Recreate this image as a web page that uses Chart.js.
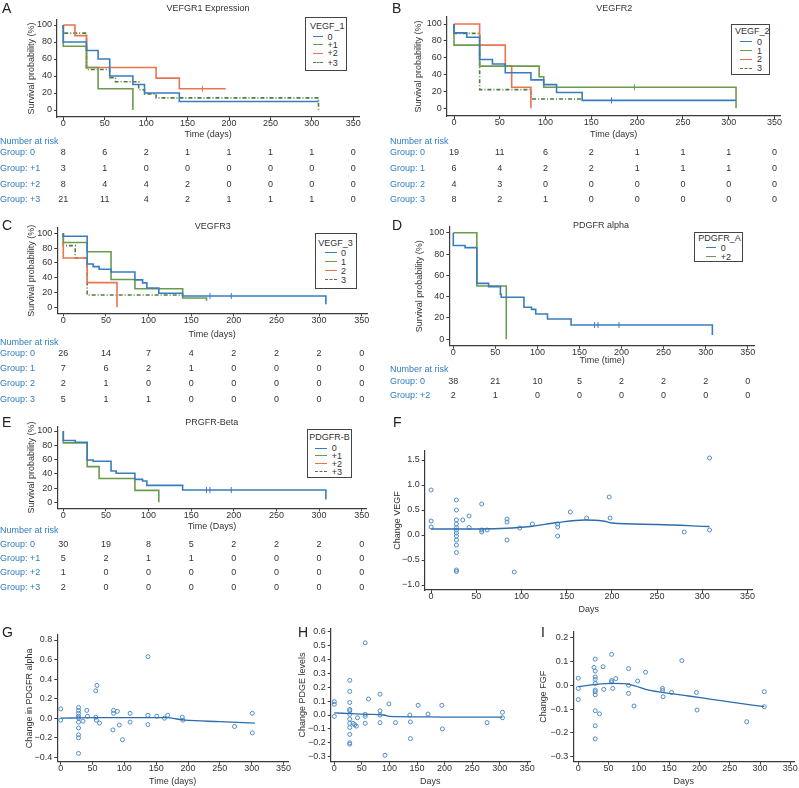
<!DOCTYPE html>
<html>
<head>
<meta charset="utf-8">
<script src="https://cdn.jsdelivr.net/npm/chart.js@4.4.0/dist/chart.umd.min.js"></script>
<style>
body { margin: 0; background: #fff; width: 799px; height: 788px; position: relative; overflow: hidden; font-family: "Liberation Sans", Arial, sans-serif; }
canvas { position: absolute; }
.letter { position: absolute; font-size: 14px; color: #222; line-height: 1; transform: translateY(-50%); }
.title { position: absolute; font-size: 9px; color: #333; white-space: nowrap; transform: translate(-50%, -50%); }
.leg { position: absolute; border: 1.5px solid #444; background: #fff; box-sizing: border-box; }
.legtxt { position: absolute; font-size: 9px; color: #333; white-space: nowrap; transform: translateY(-50%); line-height: 1; }
.legline { position: absolute; height: 0; }
</style>
</head>
<body>
<script>
const FONT = '"Liberation Sans", Arial, sans-serif';

// shared ticks
const timeTicks = [0, 50, 100, 150, 200, 250, 300, 350];
const survTicks = [0, 20, 40, 60, 80, 100];

// A: VEFGR1 expression (VEGF_1)
const aGroups = ['0', '+1', '+2', '+3'];
const aTime0 = [0, 0, 28, 42, 56, 84, 98, 140, 308];
const aSurv0 = [100, 80, 70, 60, 40, 30, 20, 10, 10];
const aTime1 = [0, 0, 28, 42, 84];
const aSurv1 = [100, 75, 50, 25, 0];
const aTime2 = [0, 14, 28, 112, 140, 196];
const aSurv2 = [100, 87.5, 50, 37.5, 25, 25];
const aCensT2 = [168];
const aCensS2 = [25];
const aTime3 = [0, 0, 28, 56, 63, 91, 98, 112, 308, 308];
const aSurv3 = [100, 90.5, 47.6, 38.1, 33.3, 23.8, 19, 14.3, 14.3, 0];
const aRisk = [[8, 6, 2, 1, 1, 1, 1, 0], [3, 1, 0, 0, 0, 0, 0, 0], [8, 4, 4, 2, 0, 0, 0, 0], [21, 11, 4, 2, 1, 1, 1, 0]];

// B: VEGFR2 (VEGF_2)
const bGroups = ['0', '1', '2', '3'];
const bTime0 = [0, 0, 14, 28, 28, 42, 56, 84, 98, 112, 140, 308];
const bSurv0 = [100, 89.5, 84.2, 63.2, 57.9, 52.6, 42.1, 33.7, 28.1, 18.7, 9.4, 9.4];
const bCensT0 = [172];
const bCensS0 = [9.4];
const bTime1 = [0, 0, 28, 93, 98, 308, 308];
const bSurv1 = [100, 75, 50, 37.5, 25, 25, 0];
const bCensT1 = [197];
const bCensS1 = [25];
const bTime2 = [0, 28, 56, 63, 84];
const bSurv2 = [100, 75, 50, 25, 0];
const bTime3 = [0, 0, 28, 84, 140];
const bSurv3 = [100, 88.9, 22.2, 11.1, 11.1];
const bRisk = [[19, 11, 6, 2, 1, 1, 1, 0], [6, 4, 2, 2, 1, 1, 1, 0], [4, 3, 0, 0, 0, 0, 0, 0], [8, 2, 1, 0, 0, 0, 0, 0]];

// C: VEGFR3 (VEGF_3)
const cGroups = ['0', '1', '2', '3'];
const cTime0 = [0, 0, 28, 28, 35, 42, 56, 84, 93, 98, 112, 140, 308, 308];
const cSurv0 = [100, 96, 65, 58.6, 55, 51.4, 47.7, 37, 33, 26, 19, 15.3, 15.3, 4];
const cCensT0 = [172, 197];
const cCensS0 = [15.3, 15.3];
const cTime1 = [0, 0, 28, 56, 84, 140, 168, 168];
const cSurv1 = [100, 87.5, 75, 37.5, 25, 12.5, 12.5, 9];
const cTime2 = [0, 0, 28, 63];
const cSurv2 = [100, 66.7, 33.3, 0];
const cTime3 = [0, 0, 14, 28, 140];
const cSurv3 = [100, 83.3, 66.7, 16.7, 16.7];
const cRisk = [[26, 14, 7, 4, 2, 2, 2, 0], [7, 6, 2, 1, 0, 0, 0, 0], [2, 1, 0, 0, 0, 0, 0, 0], [5, 1, 1, 0, 0, 0, 0, 0]];

// D: PDGFR alpha (PDGFR_A)
const dGroups = ['0', '+2'];
const dTime0 = [0, 0, 14, 28, 28, 42, 56, 57, 84, 93, 98, 112, 140, 308, 308];
const dSurv0 = [100, 88, 86, 55, 52.5, 49.4, 42.2, 39.4, 30, 28.1, 23.7, 19, 13.4, 13.4, 4];
const dCensT0 = [168, 172, 197];
const dCensS0 = [13.4, 13.4, 13.4];
const dTime1 = [0, 28, 63];
const dSurv1 = [100, 50, 0];
const dRisk = [[38, 21, 10, 5, 2, 2, 2, 0], [2, 1, 0, 0, 0, 0, 0, 0]];

// E: PRGFR-Beta (PDGFR-B)
const eGroups = ['0', '+1', '+2', '+3'];
const eTime0 = [0, 0, 14, 28, 35, 56, 62, 84, 93, 98, 140, 308, 308];
const eSurv0 = [100, 86.7, 84.3, 59.3, 57.5, 43.9, 40.7, 32.2, 29.9, 23.8, 17.3, 17.3, 4];
const eCensT0 = [168, 172, 197];
const eCensS0 = [17.3, 17.3, 17.3];
const eTime1 = [0, 0, 28, 42, 84, 112];
const eSurv1 = [100, 83.3, 50, 33.3, 16.7, 0];
const eTime2 = [];
const eSurv2 = [];
const eTime3 = [];
const eSurv3 = [];
const eRisk = [[30, 19, 8, 5, 2, 2, 2, 0], [5, 2, 1, 1, 0, 0, 0, 0], [1, 0, 0, 0, 0, 0, 0, 0], [2, 0, 0, 0, 0, 0, 0, 0]];

// F: change VEGF
const fTicks = [-1.0, -0.5, 0.0, 0.5, 1.0, 1.5];
const fDays = [0, 0, 0, 28, 28, 28, 28, 28, 28, 28, 28, 28, 28, 28, 28, 28, 35, 42, 42, 56, 56, 56, 62, 84, 84, 84, 92, 98, 112, 140, 140, 140, 154, 172, 197, 198, 280, 308, 308];
const fVals = [0.9, 0.28, 0.16, 0.7, 0.5, 0.3, 0.22, 0.15, 0.1, 0.04, -0.02, -0.1, -0.2, -0.35, -0.7, -0.73, 0.3, 0.38, 0.15, 0.62, 0.1, 0.06, 0.1, 0.32, 0.26, -0.1, -0.74, 0.14, 0.22, 0.22, 0.16, -0.02, 0.46, 0.34, 0.76, 0.34, 0.06, 1.54, 0.1];
const fFitDays = [0, 50, 90, 110, 140, 170, 190, 200, 250, 308];
const fFitVals = [0.12, 0.12, 0.14, 0.17, 0.25, 0.3, 0.28, 0.24, 0.21, 0.17];

// G: change in PDGFR alpha
const gTicks = [-0.4, -0.2, 0.0, 0.2, 0.4, 0.6, 0.8];
const gDays = [0, 0, 28, 28, 28, 28, 28, 28, 28, 28, 28, 28, 35, 41, 42, 55, 57, 55, 56, 61, 83, 83, 82, 89, 92, 97, 109, 109, 137, 137, 137, 151, 163, 168, 191, 192, 273, 301, 301];
const gVals = [0.096, -0.02, 0.11, 0.08, 0.05, 0.02, 0, -0.04, -0.1, -0.17, -0.2, -0.36, -0.03, 0.08, 0.02, 0.28, 0.335, 0.01, -0.02, -0.05, 0.08, 0.05, -0.12, 0.07, -0.07, -0.22, 0.05, -0.04, 0.63, 0.03, -0.065, 0.02, 0.0, 0.03, 0.01, -0.02, -0.085, 0.05, -0.15];
const gFitDays = [0, 50, 100, 165, 195, 250, 305];
const gFitVals = [0, 0.005, 0.005, 0.005, -0.02, -0.035, -0.05];

// H: change PDGE levels
const hTicks = [-0.3, -0.2, -0.1, 0.0, 0.1, 0.2, 0.3, 0.4, 0.5, 0.6];
const hDays = [0, 0, 0, 28, 28, 28, 28, 28, 28, 28, 28, 28, 28, 28, 28, 34, 37, 40, 42, 56, 56, 56, 56, 62, 83, 83, 83, 83, 92, 99, 111, 137, 138, 138, 152, 170, 195, 196, 277, 305, 305];
const hVals = [0.096, 0.077, -0.01, 0.25, 0.17, 0.09, 0.04, 0.03, 0.005, -0.03, -0.06, -0.09, -0.14, -0.2, -0.21, -0.06, -0.07, -0.08, -0.02, 0.52, 0.005, -0.01, -0.06, 0.115, 0.15, 0.03, 0.0, -0.055, -0.29, 0.08, -0.055, 0.0, -0.05, -0.17, 0.07, 0.007, 0.07, -0.1, -0.055, 0.02, -0.02];
const hFitDays = [0, 30, 60, 90, 100, 150, 200, 305];
const hFitVals = [0.015, 0.01, 0.005, 0.0, -0.01, -0.013, -0.015, -0.015];

// I: change FGF
const iTicks = [-0.3, -0.2, -0.1, 0.0, 0.1, 0.2];
const iDays = [0, 0, 0, 28, 26, 28, 28, 28, 28, 28, 28, 28, 28, 28, 28, 35, 41, 42, 55, 55, 55, 57, 62, 83, 83, 83, 92, 98, 111, 139, 139, 140, 154, 171, 195, 196, 278, 307, 307];
const iVals = [0.03, -0.013, -0.06, 0.11, 0.075, 0.06, 0.035, 0.025, 0.008, -0.02, -0.027, -0.04, -0.107, -0.17, -0.225, -0.12, 0.078, -0.017, 0.13, 0.02, 0.014, -0.013, 0.028, 0.07, 0.0, -0.034, -0.087, 0.018, 0.055, -0.013, -0.022, -0.048, -0.03, 0.104, -0.03, -0.104, -0.153, -0.027, -0.09];
const iFitDays = [0, 30, 57, 79, 95, 111, 139, 182, 220, 258, 307];
const iFitVals = [-0.006, 0.004, 0.008, 0.006, -0.003, -0.017, -0.03, -0.045, -0.059, -0.073, -0.09];

// colours
const blue = '#3b7cbf';
const green = '#6b9b4c';
const orange = '#ea7450';
const dashGreen = '#4f7d3c';
const riskBlue = '#2f7dc0';
const dotBlue = '#4d8cc8';
const fitBlue = '#2c6dae';
const axisGrey = '#3a3a3a';

Chart.defaults.font.family = FONT;
Chart.defaults.font.size = 9;
Chart.defaults.color = '#333';
Chart.defaults.animation = false;

function addCanvas(r) {
    const c = document.createElement('canvas');
    c.width = r.w;
    c.height = r.h;
    c.style.left = r.x + 'px';
    c.style.top = r.y + 'px';
    c.style.width = r.w + 'px';
    c.style.height = r.h + 'px';
    document.body.appendChild(c);
    return c;
}

// value range that puts ref values at the ref pixels
function rangeFor(ref, pa, pb) {
    const k = (ref[3] - ref[1]) / (ref[2] - ref[0]);
    return [ref[0] + (pa - ref[1]) / k, ref[0] + (pb - ref[1]) / k];
}

function axis(lim, tickVals, title, size, isX, fmt) {
    return {
        type: 'linear',
        min: lim[0],
        max: lim[1],
        border: { color: axisGrey, width: 1.2 },
        grid: { drawOnChartArea: false, drawTicks: true, tickLength: 3, color: axisGrey },
        ticks: { color: '#333', padding: isX ? -1.5 : 2, maxRotation: 0, autoSkip: false, callback: fmt || (v => v) },
        title: { display: true, text: title, color: '#333', padding: 0 },
        afterBuildTicks: s => { s.ticks = tickVals.map(v => ({ value: v })); },
        afterFit: s => { if (isX) s.height = size; else s.width = size; }
    };
}

function baseOptions(p) {
    const Wy = p.area.l - p.yTitleX + 5.4;
    const Hx = p.xTitleY - p.area.b + 5.4;
    const xl = rangeFor(p.xRef, p.area.l, p.area.r);
    const yl = rangeFor(p.yRef, p.area.b, p.area.t);
    return {
        responsive: false,
        events: [],
        layout: {
            padding: {
                left: p.yTitleX - 5.4 - p.canvas.x,
                top: p.area.t - p.canvas.y,
                right: p.canvas.x + p.canvas.w - p.area.r,
                bottom: Math.max(0, p.canvas.y + p.canvas.h - p.xTitleY - 5.4)
            }
        },
        plugins: { legend: { display: false }, tooltip: { enabled: false } },
        scales: {
            x: axis(xl, timeTicks, p.xTitle, Hx, true),
            y: axis(yl, p.yTicks, p.yTitle, Wy, false, p.fmt)
        }
    };
}

function riskPlugin(p) {
    return {
        id: 'risk',
        afterDraw(chart) {
            const ctx = chart.ctx;
            const xs = chart.scales.x;
            const r = p.risk;
            ctx.save();
            ctx.font = '9px ' + FONT;
            ctx.textBaseline = 'middle';
            ctx.fillStyle = riskBlue;
            ctx.textAlign = 'left';
            ctx.fillText('Number at risk', r.labelX - p.canvas.x, r.headY - p.canvas.y);
            r.rows.forEach((row, i) => {
                const y = r.rowY[i] - p.canvas.y;
                ctx.fillStyle = riskBlue;
                ctx.textAlign = 'left';
                ctx.fillText('Group: ' + p.names[i], r.labelX - p.canvas.x, y);
                ctx.fillStyle = '#333';
                ctx.textAlign = 'center';
                row.forEach((n, k) => ctx.fillText(String(n), xs.getPixelForValue(timeTicks[k]), y));
            });
            ctx.restore();
        }
    };
}

function addText(cls, txt, x, y) {
    const d = document.createElement('div');
    d.className = cls;
    d.textContent = txt;
    d.style.left = x + 'px';
    d.style.top = y + 'px';
    document.body.appendChild(d);
}

function addLegend(p) {
    const L = p.legend;
    const box = document.createElement('div');
    box.className = 'leg';
    box.style.left = L.x1 + 'px';
    box.style.top = L.y1 + 'px';
    box.style.width = (L.x2 - L.x1) + 'px';
    box.style.height = (L.y2 - L.y1) + 'px';
    document.body.appendChild(box);
    addText('legtxt', L.title, L.titleX, L.titleY);
    p.groups.forEach((g, i) => {
        const ln = document.createElement('div');
        ln.className = 'legline';
        ln.style.left = L.lineX[0] + 'px';
        ln.style.top = (L.rowY[i] - 0.75) + 'px';
        ln.style.width = (L.lineX[1] - L.lineX[0]) + 'px';
        ln.style.borderTop = '1.5px ' + (g.dash ? 'dashed ' : 'solid ') + g.color;
        document.body.appendChild(ln);
        addText('legtxt', p.names[i], L.textX, L.rowY[i]);
    });
}

function kmPanel(p) {
    const cv = addCanvas(p.canvas);
    const datasets = [];
    p.groups.forEach(g => {
        datasets.push({
            data: g.t.map((t, j) => ({ x: t, y: g.s[j] })),
            stepped: 'before',
            borderColor: g.color,
            borderWidth: 1.6,
            borderDash: g.dash || [],
            pointRadius: 0,
            fill: false
        });
        if (g.ct) {
            datasets.push({
                data: g.ct.map((t, j) => ({ x: t, y: g.cs[j] })),
                showLine: false,
                pointStyle: 'line',
                pointRotation: 90,
                pointRadius: 3,
                borderColor: g.color,
                borderWidth: 1
            });
        }
    });
    p.yTicks = survTicks;
    p.yTitle = 'Survival probability (%)';
    new Chart(cv, { type: 'line', data: { datasets }, options: baseOptions(p), plugins: [riskPlugin(p)] });
    addLegend(p);
    addText('letter', p.letter, p.letterX, p.letterY);
    addText('title', p.title, p.titleX, p.titleY);
}

function scatterPanel(p) {
    const cv = addCanvas(p.canvas);
    p.fmt = v => v.toFixed(1).replace('-', '\u2212');
    const datasets = [
        {
            data: p.fitDays.map((d, j) => ({ x: d, y: p.fitVals[j] })),
            borderColor: fitBlue,
            borderWidth: 1.3,
            pointRadius: 0,
            tension: 0.4,
            cubicInterpolationMode: 'monotone',
            fill: false
        },
        {
            data: p.days.map((d, j) => ({ x: d, y: p.vals[j] })),
            showLine: false,
            pointRadius: 2,
            pointBorderWidth: 1,
            borderColor: dotBlue,
            backgroundColor: 'rgba(0,0,0,0)'
        }
    ];
    new Chart(cv, { type: 'line', data: { datasets }, options: baseOptions(p) });
    addText('letter', p.letter, p.letterX, p.letterY);
}

const dash = [4, 2, 1, 2];

kmPanel({
    letter: 'A', letterX: 2, letterY: 8, title: 'VEFGR1 Expression', titleX: 208, titleY: 7.5,
    canvas: { x: 0, y: 0, w: 400, h: 208 }, area: { l: 57, t: 20, r: 359.3, b: 117 },
    xRef: [0, 63.3, 350, 353.3], yRef: [0, 110, 100, 25], yTitleX: 31.7, xTitleY: 135, xTitle: 'Time (days)',
    names: aGroups,
    groups: [
        { t: aTime0, s: aSurv0, color: blue },
        { t: aTime1, s: aSurv1, color: green },
        { t: aTime2, s: aSurv2, color: orange, ct: aCensT2, cs: aCensS2 },
        { t: aTime3, s: aSurv3, color: dashGreen, dash: dash }
    ],
    risk: { labelX: 0, headY: 141.7, rowY: [153, 168.7, 184.3, 200], rows: aRisk },
    legend: { x1: 305.3, y1: 17.3, x2: 347.3, y2: 70.7, title: 'VEGF_1', titleX: 310, titleY: 25.5, rowY: [36.7, 44.7, 53.3, 62.7], lineX: [313, 323], textX: 327.5 }
});

kmPanel({
    letter: 'B', letterX: 392, letterY: 8, title: 'VEGFR2', titleX: 614.3, titleY: 7.5,
    canvas: { x: 390, y: 0, w: 409, h: 208 }, area: { l: 446.7, t: 17, r: 780.7, b: 116 },
    xRef: [0, 454, 350, 774.5], yRef: [0, 108.3, 100, 24], yTitleX: 418.3, xTitleY: 135, xTitle: 'Time (days)',
    names: bGroups,
    groups: [
        { t: bTime0, s: bSurv0, color: blue, ct: bCensT0, cs: bCensS0 },
        { t: bTime1, s: bSurv1, color: green, ct: bCensT1, cs: bCensS1 },
        { t: bTime2, s: bSurv2, color: orange },
        { t: bTime3, s: bSurv3, color: dashGreen, dash: dash }
    ],
    risk: { labelX: 390, headY: 141.7, rowY: [153, 168.7, 184.3, 200], rows: bRisk },
    legend: { x1: 730.7, y1: 24, x2: 770, y2: 75, title: 'VEGF_2', titleX: 735, titleY: 30.7, rowY: [41.7, 50.7, 59.3, 68.3], lineX: [740, 751.7], textX: 757 }
});

kmPanel({
    letter: 'C', letterX: 2, letterY: 225, title: 'VEGFR3', titleX: 212.7, titleY: 225.5,
    canvas: { x: 0, y: 212, w: 400, h: 194 }, area: { l: 57.3, t: 228, r: 367, b: 313.3 },
    xRef: [0, 63.3, 350, 361.7], yRef: [0, 307.3, 100, 233.3], yTitleX: 31.7, xTitleY: 335, xTitle: 'Time (days)',
    names: cGroups,
    groups: [
        { t: cTime0, s: cSurv0, color: blue, ct: cCensT0, cs: cCensS0 },
        { t: cTime1, s: cSurv1, color: green },
        { t: cTime2, s: cSurv2, color: orange },
        { t: cTime3, s: cSurv3, color: dashGreen, dash: dash }
    ],
    risk: { labelX: 0, headY: 342.5, rowY: [353.3, 369, 384, 399.3], rows: cRisk },
    legend: { x1: 315, y1: 232.7, x2: 357.3, y2: 289.3, title: 'VEGF_3', titleX: 318.3, titleY: 242.7, rowY: [252.7, 262, 271, 280], lineX: [325, 336.7], textX: 341 }
});

kmPanel({
    letter: 'D', letterX: 392, letterY: 225, title: 'PDGFR alpha', titleX: 601, titleY: 225,
    canvas: { x: 390, y: 212, w: 409, h: 190 }, area: { l: 449.3, t: 226.7, r: 755, b: 345.7 },
    xRef: [0, 453.3, 350, 747.7], yRef: [0, 339.3, 100, 232.7], yTitleX: 420, xTitleY: 361, xTitle: 'Time (time)',
    names: dGroups,
    groups: [
        { t: dTime0, s: dSurv0, color: blue, ct: dCensT0, cs: dCensS0 },
        { t: dTime1, s: dSurv1, color: green }
    ],
    risk: { labelX: 390, headY: 369.5, rowY: [381.5, 395.5], rows: dRisk },
    legend: { x1: 694, y1: 231.7, x2: 743.3, y2: 261.7, title: 'PDGFR_A', titleX: 698.3, titleY: 237.5, rowY: [247.5, 256.5], lineX: [706, 716], textX: 720.7 }
});

kmPanel({
    letter: 'E', letterX: 2, letterY: 421.7, title: 'PRGFR-Beta', titleX: 211.7, titleY: 421.7,
    canvas: { x: 0, y: 410, w: 400, h: 184 }, area: { l: 57.3, t: 426.7, r: 366.7, b: 508.3 },
    xRef: [0, 63.3, 350, 361.7], yRef: [0, 502.3, 100, 431], yTitleX: 31.7, xTitleY: 526.7, xTitle: 'Time (Days)',
    names: eGroups,
    groups: [
        { t: eTime0, s: eSurv0, color: blue, ct: eCensT0, cs: eCensS0 },
        { t: eTime1, s: eSurv1, color: green },
        { t: eTime2, s: eSurv2, color: orange },
        { t: eTime3, s: eSurv3, color: dashGreen, dash: dash }
    ],
    risk: { labelX: 0, headY: 531, rowY: [545, 559, 573, 587.3], rows: eRisk },
    legend: { x1: 306.7, y1: 429.3, x2: 351.7, y2: 478.3, title: 'PDGFR-B', titleX: 309.3, titleY: 436.5, rowY: [448.3, 456, 464, 471.7], lineX: [315, 326.7], textX: 331.7 }
});

scatterPanel({
    letter: 'F', letterX: 393, letterY: 421.7,
    canvas: { x: 385, y: 440, w: 414, h: 180 }, area: { l: 424.7, t: 451, r: 753, b: 590 },
    xRef: [0, 431.1, 350, 747.5], yRef: [0, 535, 1.5, 460], yTitleX: 398, xTitleY: 610,
    xTitle: 'Days', yTitle: 'Change VEGF', yTicks: fTicks,
    days: fDays, vals: fVals, fitDays: fFitDays, fitVals: fFitVals
});

scatterPanel({
    letter: 'G', letterX: 2, letterY: 631.7,
    canvas: { x: 0, y: 622, w: 300, h: 166 }, area: { l: 57.3, t: 635, r: 288, b: 761.7 },
    xRef: [0, 60.7, 300, 251.7], yRef: [0, 718.2, 0.8, 640], yTitleX: 30, xTitleY: 782,
    xTitle: 'Time (days)', yTitle: 'Change in PDGFR alpha', yTicks: gTicks,
    days: gDays, vals: gVals, fitDays: gFitDays, fitVals: gFitVals
});

scatterPanel({
    letter: 'H', letterX: 298, letterY: 631.7,
    canvas: { x: 282, y: 618, w: 258, h: 170 }, area: { l: 330.7, t: 628.3, r: 530, b: 761.7 },
    xRef: [0, 334.3, 350, 527.3], yRef: [0, 715, 0.6, 631.7], yTitleX: 302.3, xTitleY: 782,
    xTitle: 'Days', yTitle: 'Change PDGE levels', yTicks: hTicks,
    days: hDays, vals: hVals, fitDays: hFitDays, fitVals: hFitVals
});

scatterPanel({
    letter: 'I', letterX: 541, letterY: 631.7,
    canvas: { x: 535, y: 618, w: 264, h: 170 }, area: { l: 573.3, t: 631.7, r: 796, b: 761.7 },
    xRef: [0, 578.3, 350, 792.3], yRef: [0, 685.3, 0.2, 637.7], yTitleX: 544, xTitleY: 782,
    xTitle: 'Days', yTitle: 'Change FGF', yTicks: iTicks,
    days: iDays, vals: iVals, fitDays: iFitDays, fitVals: iFitVals
});
</script>
</body>
</html>
